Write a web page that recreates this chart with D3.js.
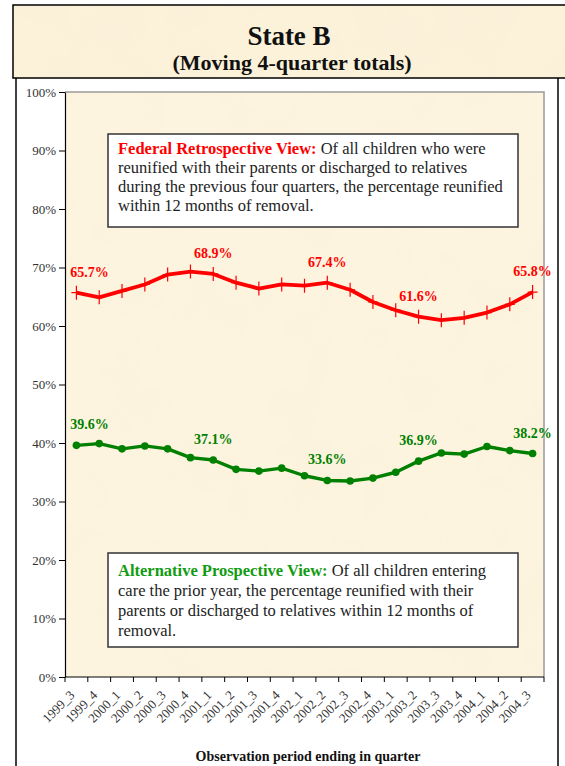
<!DOCTYPE html>
<html>
<head>
<meta charset="utf-8">
<script src="https://cdn.jsdelivr.net/npm/d3@7"></script>
<style>
  html, body { margin: 0; padding: 0; background: #fff; }
  svg { display: block; }
  text { font-family: "Liberation Serif", "DejaVu Serif", serif; }
</style>
</head>
<body>
<svg id="chart" width="565" height="766"></svg>
<script>
// quarters on the x axis
const quarters = ["1999_3","1999_4","2000_1","2000_2","2000_3","2000_4","2001_1","2001_2","2001_3","2001_4",
  "2002_1","2002_2","2002_3","2002_4","2003_1","2003_2","2003_3","2003_4","2004_1","2004_2","2004_3"];

// Federal Retrospective View (%)
const federal = [65.7, 64.9, 66.0, 67.1, 68.8, 69.3, 68.9, 67.4, 66.4, 67.1, 66.9,
  67.4, 66.2, 64.1, 62.7, 61.6, 61.0, 61.4, 62.3, 63.7, 65.8];

// Alternative Prospective View (%)
const alternative = [39.6, 39.9, 39.0, 39.5, 39.0, 37.5, 37.1, 35.5, 35.2, 35.7, 34.4,
  33.6, 33.5, 34.0, 35.0, 36.9, 38.3, 38.1, 39.4, 38.7, 38.2];

// which points carry a value label
const labelIdx = [0, 6, 11, 15, 20];

const yTicks = [0, 10, 20, 30, 40, 50, 60, 70, 80, 90, 100];

const fedText = ["Of all children who were",
  "reunified with their parents or discharged to relatives",
  "during the previous four quarters, the percentage reunified",
  "within 12 months of removal."];
const altText = ["Of all children entering",
  "care the prior year, the percentage reunified with their",
  "parents or discharged to relatives within 12 months of",
  "removal."];

const svg = d3.select("#chart");
const RED = "#ff0000", GREEN = "#008000", GREEN_LT = "#119c11";

///// parchment texture /////
const defs = svg.append("defs");
const filt = defs.append("filter").attr("id", "parch")
  .attr("x", 0).attr("y", 0).attr("width", "100%").attr("height", "100%");
filt.append("feTurbulence").attr("type", "fractalNoise")
  .attr("baseFrequency", "0.018").attr("numOctaves", 3).attr("seed", 7);
filt.append("feColorMatrix").attr("type", "matrix")
  .attr("values", "0 0 0 0 0.93  0 0 0 0 0.85  0 0 0 0 0.68  0.6 0 0 0 -0.24");
filt.append("feComposite").attr("in2", "SourceGraphic").attr("operator", "in");

function parchment(x, y, w, h, base) {
  svg.append("rect").attr("x", x).attr("y", y).attr("width", w).attr("height", h).attr("fill", base);
  svg.append("rect").attr("x", x).attr("y", y).attr("width", w).attr("height", h)
    .attr("fill", "#000").attr("filter", "url(#parch)");
}

///// outer frame + title box /////
svg.append("line").attr("x1", 16).attr("x2", 16).attr("y1", 78).attr("y2", 766)
  .attr("stroke", "#000").attr("stroke-width", 1.5);
svg.append("line").attr("x1", 558).attr("x2", 558).attr("y1", 78).attr("y2", 766)
  .attr("stroke", "#000").attr("stroke-width", 1.5);

parchment(13, 5, 555, 73, "#fcf1d9");
svg.append("path").attr("d", "M566,5H13V78H566")
  .attr("fill", "none").attr("stroke", "#000").attr("stroke-width", 1.5);

svg.append("text").attr("x", 289).attr("y", 45).attr("text-anchor", "middle")
  .style("font-size", "27px").style("font-weight", "bold").attr("fill", "#111").text("State B");
svg.append("text").attr("x", 292).attr("y", 70).attr("text-anchor", "middle")
  .style("font-size", "22px").style("font-weight", "bold").attr("fill", "#111")
  .text("(Moving 4-quarter totals)");

///// scales /////
const plot = {left: 65, right: 544, top: 92, bottom: 677};
const x = d3.scaleBand().domain(quarters).range([plot.left, plot.right]);
const y = d3.scaleLinear().domain([0, 100]).range([plot.bottom, plot.top]);
const cx = d => x(d) + x.bandwidth() / 2;

// plot area
parchment(plot.left, plot.top, plot.right - plot.left, plot.bottom - plot.top, "#fdf4df");
svg.append("path")
  .attr("d", `M${plot.left},${plot.top}H${plot.right}V${plot.bottom}`)
  .attr("fill", "none").attr("stroke", "#9a9a9a").attr("stroke-width", 1.5);

// y axis
const yAxis = svg.append("g").attr("transform", `translate(${plot.left},0)`)
  .call(d3.axisLeft(y).tickValues(yTicks).tickFormat(d => d + "%").tickSize(6).tickSizeOuter(0));
yAxis.select(".domain").attr("stroke", "#000").attr("stroke-width", 1.2);
yAxis.selectAll(".tick line").attr("stroke", "#000");
yAxis.selectAll("text").attr("x", -9).attr("fill", "#333")
  .style("font-family", "'Liberation Serif', serif").style("font-size", "13px");

// x axis: ticks at band edges, labels at band centres
const xAxis = svg.append("g").attr("transform", `translate(0,${plot.bottom})`);
xAxis.append("line").attr("x1", plot.left).attr("x2", plot.right)
  .attr("stroke", "#000").attr("stroke-width", 1.2);
xAxis.selectAll(".edge").data(quarters.concat(["end"])).enter().append("line")
  .attr("class", "edge")
  .attr("x1", (d, i) => plot.left + i * x.step()).attr("x2", (d, i) => plot.left + i * x.step())
  .attr("y1", 0).attr("y2", 5).attr("stroke", "#000");
xAxis.selectAll(".xlab").data(quarters).enter().append("text")
  .attr("class", "xlab")
  .attr("transform", d => `translate(${cx(d) - 1},${19}) rotate(-45)`)
  .attr("text-anchor", "end").attr("fill", "#333")
  .style("font-size", "13px").text(d => d);

svg.append("text").attr("x", 308).attr("y", 761).attr("text-anchor", "middle")
  .style("font-size", "14px").style("font-weight", "bold").attr("fill", "#111")
  .text("Observation period ending in quarter");

///// annotation boxes /////
function note(x0, y0, w, h, head, color, lines, firstBase, gap) {
  svg.append("rect").attr("x", x0).attr("y", y0).attr("width", w).attr("height", h)
    .attr("fill", "#fff").attr("stroke", "#333").attr("stroke-width", 1.5);
  const t = svg.append("text").attr("x", x0 + 10).attr("y", firstBase)
    .style("font-size", "16.5px").attr("fill", "#222");
  t.append("tspan").attr("fill", color).style("font-weight", "bold").text(head + " ");
  t.append("tspan").text(lines[0]);
  lines.slice(1).forEach((l, i) => {
    svg.append("text").attr("x", x0 + 10).attr("y", firstBase + gap * (i + 1))
      .style("font-size", "16.5px").attr("fill", "#222").text(l);
  });
}
note(108, 134, 410, 93, "Federal Retrospective View:", RED, fedText, 154, 19);
note(108, 553, 410, 94, "Alternative Prospective View:", GREEN_LT, altText, 576, 20);

///// lines /////
const line = d3.line().x((d, i) => cx(quarters[i])).y(d => y(d));

svg.append("path").datum(federal).attr("d", line)
  .attr("fill", "none").attr("stroke", RED).attr("stroke-width", 3.8).attr("stroke-linejoin", "round");
svg.selectAll(".fmark").data(federal).enter().append("path")
  .attr("class", "fmark")
  .attr("transform", (d, i) => `translate(${cx(quarters[i])},${y(d)})`)
  .attr("d", "M-5,0H5M0,-7V7").attr("stroke", RED).attr("stroke-width", 1.2);

svg.append("path").datum(alternative).attr("d", line)
  .attr("fill", "none").attr("stroke", GREEN).attr("stroke-width", 3.4).attr("stroke-linejoin", "round");
svg.selectAll(".amark").data(alternative).enter().append("circle")
  .attr("class", "amark")
  .attr("cx", (d, i) => cx(quarters[i])).attr("cy", d => y(d)).attr("r", 3.8).attr("fill", GREEN);

///// value labels /////
function valueLabels(values, color) {
  svg.selectAll(null).data(labelIdx).enter().append("text")
    .attr("x", i => cx(quarters[i]) + (i === 0 ? 13 : 0))
    .attr("y", i => y(values[i]) - 16)
    .attr("text-anchor", "middle")
    .style("font-size", "14px").style("font-weight", "bold").attr("fill", color)
    .text(i => values[i].toFixed(1) + "%");
}
valueLabels(federal, RED);
valueLabels(alternative, GREEN);
</script>
</body>
</html>
